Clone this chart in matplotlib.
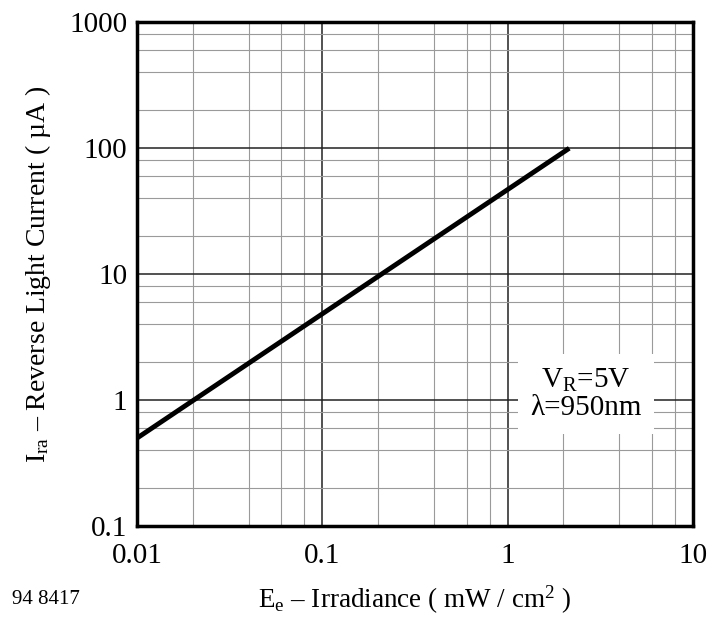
import matplotlib
matplotlib.use("Agg")
import matplotlib.pyplot as plt
from matplotlib.ticker import LogLocator, FixedLocator, NullFormatter

plt.rcParams['font.family'] = ['Liberation Serif', 'DejaVu Serif']
plt.rcParams['mathtext.fontset'] = 'custom'
plt.rcParams['mathtext.rm'] = 'Liberation Serif'
plt.rcParams['mathtext.it'] = 'Liberation Serif:italic'

# reverse light current vs irradiance (straight line on log-log)
irradiance = [0.01, 2.15]      # mW/cm2
current = [0.5, 100]           # uA

x_ticks = [0.01, 0.1, 1, 10]
x_labels = ['0.01', '0.1', '1', '10']
y_ticks = [0.1, 1, 10, 100, 1000]
y_labels = ['0.1', '1', '10', '100', '1000']

fig = plt.figure(figsize=(7.1, 6.19), dpi=100)
ax = fig.add_axes([0.193, 0.150, 0.783, 0.814])

ax.set_xscale('log')
ax.set_yscale('log')
ax.set_xlim(0.01, 10)
ax.set_ylim(0.1, 1000)

ax.xaxis.set_major_locator(FixedLocator(x_ticks))
ax.yaxis.set_major_locator(FixedLocator(y_ticks))
ax.set_xticklabels(x_labels)
ax.set_yticklabels(y_labels)
ax.xaxis.set_minor_locator(LogLocator(base=10, subs=(2, 4, 6, 8)))
ax.yaxis.set_minor_locator(LogLocator(base=10, subs=(2, 4, 6, 8)))
ax.xaxis.set_minor_formatter(NullFormatter())
ax.yaxis.set_minor_formatter(NullFormatter())

ax.grid(True, which='major', color='#222222', linewidth=1.1)
ax.grid(True, which='minor', color='#9a9a9a', linewidth=0.8)
ax.tick_params(which='both', length=0, labelsize=21)
ax.tick_params(axis='x', pad=12)
ax.tick_params(axis='y', pad=7)

for sp in ax.spines.values():
    sp.set_linewidth(2.5)
    sp.set_zorder(5)

ax.plot(irradiance, current, color='black', linewidth=3.5, solid_capstyle='butt', zorder=4)

ax.text(2.65, 1.12, 'V$_\\mathrm{R}$=5V\nλ=950nm', fontsize=21, ha='center', va='center',
        linespacing=1.05, zorder=4,
        bbox=dict(facecolor='white', edgecolor='none', pad=9))

ax.set_ylabel('I$_\\mathrm{ra}$ – Reverse Light Current ( µA )', fontsize=20, labelpad=12)
ax.set_xlabel('E$_\\mathrm{e}$ – Irradiance ( mW / cm$^2$ )', fontsize=19.5, labelpad=11)

fig.text(0.017, 0.025, '94 8417', fontsize=15)

fig.savefig('out.png', dpi=100)
